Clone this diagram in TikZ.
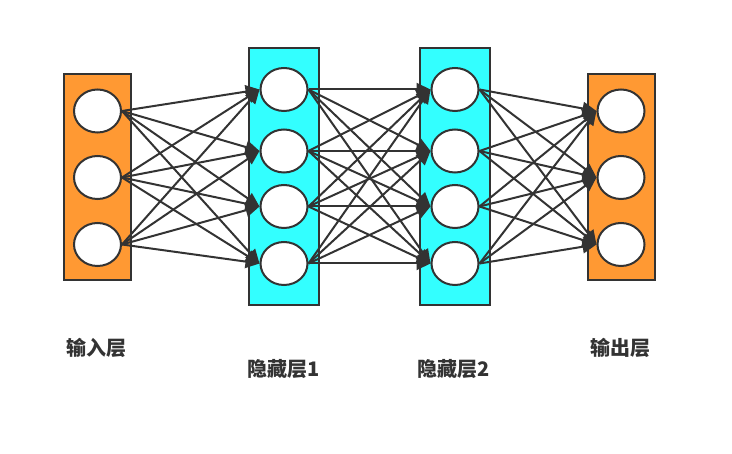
\documentclass[tikz,border=0pt]{standalone}
\usepackage{fontspec}
\newfontfamily\cjk{Noto Sans CJK SC}
\definecolor{layerOrange}{HTML}{FF9933}
\definecolor{layerCyan}{HTML}{33FFFF}
\definecolor{lineInk}{HTML}{333333}
\usetikzlibrary{arrows.meta, positioning, shapes.geometric}

\begin{document}
\begin{tikzpicture}[
    x=1pt, y=-1pt,
    layer/.style={
      draw=lineInk,
      line width=2pt,
      minimum width=67pt,
      inner sep=0pt,
    },
    neuron/.style={ellipse, draw=lineInk, fill=white, line width=2pt, minimum width=47pt, minimum height=43pt, inner sep=0pt},
    arr/.style={-{Triangle[length=14pt, width=13pt]}, lineInk, line width=2pt},
    lbl/.style={font=\cjk\bfseries\fontsize{20}{24}\selectfont, text=lineInk},
  ]
    \useasboundingbox (0,0) rectangle (732,454);

    % layers
    \node[layer, fill=layerOrange, minimum height=206pt] (inL) at (97.5,177.5) {};
    \node[layer, fill=layerCyan, minimum width=70pt, minimum height=257pt] (h1L) at (284,176.5) {};
    \node[layer, fill=layerCyan, minimum width=70pt, minimum height=257pt] (h2L) at (455,176.5) {};
    \node[layer, fill=layerOrange, minimum height=206pt] (outL) at (621,177.5) {};

    % neurons
    \foreach \i/\y in {1/111, 2/177.5, 3/244.5} {
      \node[neuron] (in\i) at (97.5,\y) {};
      \node[neuron] (out\i) at (621,\y) {};
    }
    \foreach \i/\y in {1/89.5, 2/151, 3/206.5, 4/263.5} {
      \node[neuron] (ha\i) at (284,\y) {};
      \node[neuron] (hb\i) at (455,\y) {};
    }

    % connections
    \foreach \a in {1,2,3}
      \foreach \b in {1,...,4}
        \draw[arr] (in\a.east) -- (ha\b.west);
    \foreach \a in {1,...,4}
      \foreach \b in {1,...,4}
        \draw[arr] (ha\a.east) -- (hb\b.west);
    \foreach \a in {1,...,4}
      \foreach \b in {1,2,3}
        \draw[arr] (hb\a.east) -- (out\b.west);

    % labels
    \node[lbl] (inTxt) at (96.5,348) {输入层};
    \node[lbl] (h1Txt) at (283.5,369.5) {隐藏层1};
    \node[lbl] (h2Txt) at (454,369.5) {隐藏层2};
    \node[lbl] (outTxt) at (620,348) {输出层};
\end{tikzpicture}
\end{document}
